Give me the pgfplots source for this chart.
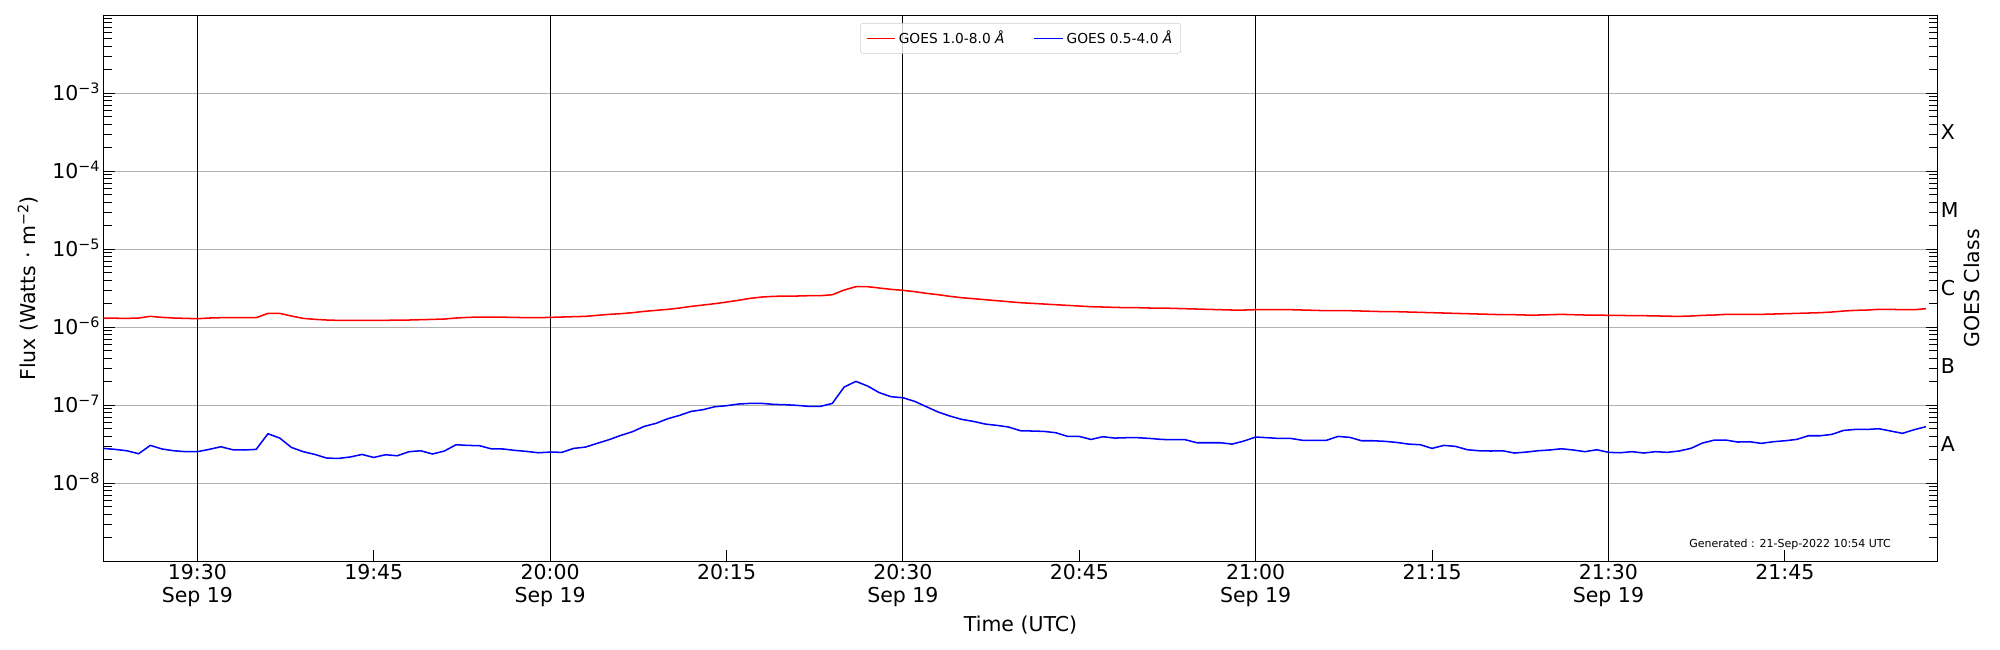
\documentclass[border=0pt]{standalone}
\usepackage{pgfplots}
\usepackage{pgfplotstable}
\pgfplotsset{compat=1.18}
\usepackage{fontspec}
\setmainfont{DejaVu Sans}

\pgfplotstableread{
t long short
22 1.317e-6 2.81e-8
23 1.310e-6 2.73e-8
24 1.304e-6 2.62e-8
25 1.317e-6 2.40e-8
26 1.384e-6 3.07e-8
27 1.343e-6 2.76e-8
28 1.317e-6 2.62e-8
29 1.304e-6 2.55e-8
30 1.291e-6 2.55e-8
31 1.317e-6 2.73e-8
32 1.330e-6 2.95e-8
33 1.330e-6 2.70e-8
34 1.330e-6 2.68e-8
35 1.330e-6 2.73e-8
36 1.511e-6 4.33e-8
37 1.511e-6 3.81e-8
38 1.397e-6 2.89e-8
39 1.304e-6 2.55e-8
40 1.266e-6 2.35e-8
41 1.242e-6 2.11e-8
42 1.229e-6 2.09e-8
43 1.229e-6 2.18e-8
44 1.229e-6 2.35e-8
45 1.229e-6 2.15e-8
46 1.229e-6 2.33e-8
47 1.242e-6 2.26e-8
48 1.242e-6 2.55e-8
49 1.254e-6 2.62e-8
50 1.266e-6 2.38e-8
51 1.279e-6 2.60e-8
52 1.317e-6 3.13e-8
53 1.343e-6 3.07e-8
54 1.357e-6 3.04e-8
55 1.357e-6 2.77e-8
56 1.350e-6 2.76e-8
57 1.343e-6 2.65e-8
58 1.330e-6 2.57e-8
59 1.330e-6 2.47e-8
60 1.343e-6 2.52e-8
61 1.357e-6 2.50e-8
62 1.370e-6 2.81e-8
63 1.384e-6 2.92e-8
64 1.425e-6 3.26e-8
65 1.468e-6 3.63e-8
66 1.497e-6 4.12e-8
67 1.542e-6 4.60e-8
68 1.604e-6 5.38e-8
69 1.652e-6 5.88e-8
70 1.701e-6 6.75e-8
71 1.770e-6 7.44e-8
72 1.858e-6 8.38e-8
73 1.933e-6 8.80e-8
74 2.011e-6 9.61e-8
75 2.113e-6 9.90e-8
76 2.219e-6 1.040e-7
77 2.354e-6 1.061e-7
78 2.448e-6 1.061e-7
79 2.497e-6 1.030e-7
80 2.522e-6 1.020e-7
81 2.522e-6 1.000e-7
82 2.547e-6 9.71e-8
83 2.547e-6 9.71e-8
84 2.623e-6 1.061e-7
85 3.011e-6 1.718e-7
86 3.322e-6 2.031e-7
87 3.322e-6 1.770e-7
88 3.193e-6 1.453e-7
89 3.070e-6 1.291e-7
90 2.982e-6 1.254e-7
91 2.867e-6 1.125e-7
92 2.729e-6 9.61e-8
93 2.623e-6 8.21e-8
94 2.497e-6 7.30e-8
95 2.401e-6 6.61e-8
96 2.331e-6 6.23e-8
97 2.263e-6 5.76e-8
98 2.197e-6 5.54e-8
99 2.133e-6 5.27e-8
100 2.071e-6 4.73e-8
101 2.031e-6 4.69e-8
102 1.991e-6 4.64e-8
103 1.952e-6 4.46e-8
104 1.914e-6 4.00e-8
105 1.877e-6 4.00e-8
106 1.841e-6 3.66e-8
107 1.823e-6 3.97e-8
108 1.805e-6 3.81e-8
109 1.787e-6 3.85e-8
110 1.787e-6 3.85e-8
111 1.770e-6 3.77e-8
112 1.770e-6 3.66e-8
113 1.752e-6 3.63e-8
114 1.735e-6 3.63e-8
115 1.718e-6 3.32e-8
116 1.701e-6 3.32e-8
117 1.685e-6 3.32e-8
118 1.668e-6 3.19e-8
119 1.668e-6 3.49e-8
120 1.685e-6 3.93e-8
121 1.685e-6 3.85e-8
122 1.685e-6 3.77e-8
123 1.685e-6 3.77e-8
124 1.668e-6 3.56e-8
125 1.652e-6 3.56e-8
126 1.636e-6 3.56e-8
127 1.636e-6 4.00e-8
128 1.636e-6 3.89e-8
129 1.620e-6 3.52e-8
130 1.604e-6 3.52e-8
131 1.588e-6 3.46e-8
132 1.588e-6 3.35e-8
133 1.573e-6 3.19e-8
134 1.557e-6 3.13e-8
135 1.542e-6 2.81e-8
136 1.527e-6 3.07e-8
137 1.511e-6 2.98e-8
138 1.497e-6 2.70e-8
139 1.482e-6 2.62e-8
140 1.468e-6 2.60e-8
141 1.453e-6 2.62e-8
142 1.453e-6 2.45e-8
143 1.439e-6 2.52e-8
144 1.439e-6 2.62e-8
145 1.453e-6 2.68e-8
146 1.468e-6 2.78e-8
147 1.453e-6 2.68e-8
148 1.439e-6 2.55e-8
149 1.439e-6 2.70e-8
150 1.425e-6 2.50e-8
151 1.425e-6 2.47e-8
152 1.411e-6 2.55e-8
153 1.411e-6 2.45e-8
154 1.404e-6 2.55e-8
155 1.390e-6 2.50e-8
156 1.384e-6 2.60e-8
157 1.397e-6 2.81e-8
158 1.425e-6 3.29e-8
159 1.439e-6 3.59e-8
160 1.468e-6 3.59e-8
161 1.468e-6 3.39e-8
162 1.468e-6 3.42e-8
163 1.468e-6 3.26e-8
164 1.482e-6 3.42e-8
165 1.497e-6 3.52e-8
166 1.511e-6 3.66e-8
167 1.527e-6 4.08e-8
168 1.542e-6 4.08e-8
169 1.573e-6 4.25e-8
170 1.620e-6 4.78e-8
171 1.652e-6 4.92e-8
172 1.668e-6 4.92e-8
173 1.701e-6 5.02e-8
174 1.701e-6 4.69e-8
175 1.685e-6 4.38e-8
176 1.685e-6 4.88e-8
177 1.735e-6 5.33e-8
}\goesdata

\newcommand{\tickfont}{\fontsize{14.8}{16.8}\selectfont}

\begin{document}
\begin{tikzpicture}
\begin{axis}[
  name=main,
  at={(0,0)}, anchor=south west,
  scale only axis,
  width=1325.72pt, height=394.67pt,
  xmin=22, xmax=178,
  ymode=log, ymin=1e-9, ymax=1e-2,
  axis line style={black, line width=0.9pt},
  xtick={30,45,60,75,90,105,120,135,150,165},
  xticklabels={{19:30\\Sep 19},{19:45},{20:00\\Sep 19},{20:15},{20:30\\Sep 19},{20:45},{21:00\\Sep 19},{21:15},{21:30\\Sep 19},{21:45}},
  xticklabel style={align=center, font=\tickfont, inner sep=2pt},
  xtick pos=bottom,
  ytick={1e-8,1e-7,1e-6,1e-5,1e-4,1e-3},
  yticklabels={10\textsuperscript{−8},10\textsuperscript{−7},10\textsuperscript{−6},10\textsuperscript{−5},10\textsuperscript{−4},10\textsuperscript{−3}},
  yticklabel style={font=\tickfont, anchor=base east, yshift=-5.4pt, inner sep=2pt},
  minor ytick={2e-9,3e-9,4e-9,5e-9,6e-9,7e-9,8e-9,9e-9,
    2e-8,3e-8,4e-8,5e-8,6e-8,7e-8,8e-8,9e-8,
    2e-7,3e-7,4e-7,5e-7,6e-7,7e-7,8e-7,9e-7,
    2e-6,3e-6,4e-6,5e-6,6e-6,7e-6,8e-6,9e-6,
    2e-5,3e-5,4e-5,5e-5,6e-5,7e-5,8e-5,9e-5,
    2e-4,3e-4,4e-4,5e-4,6e-4,7e-4,8e-4,9e-4,
    2e-3,3e-3,4e-3,5e-3,6e-3,7e-3,8e-3,9e-3},
  ytick pos=both,
  tick align=inside,
  major tick length=8.4pt,
  minor tick length=6pt,
  tick style={black, line width=0.7pt},
  ymajorgrids,
  major grid style={color=black!31, line width=0.7pt},
  xlabel={Time (UTC)},
  xlabel style={font=\tickfont, at={(axis description cs:0.5,-0.1166)}, anchor=center},
  ylabel={Flux (Watts · m\textsuperscript{−2})},
  ylabel style={font=\tickfont, at={(axis description cs:-0.04103,0.5)}, anchor=center},
  legend columns=2,
  legend style={at={(0.5,1)}, anchor=north, yshift=-5.6pt,
    draw=black!20, rounded corners=2pt, fill=white, fill opacity=0.8, text opacity=1,
    font=\fontsize{9.94}{12}\selectfont, inner xsep=4pt, inner ysep=3.5pt,
    /tikz/every even column/.append style={column sep=19pt}},
  legend image code/.code={\draw[#1] (0pt,0pt) -- (20.7pt,0pt);},
  legend cell align=left,
]
\addplot[black, line width=0.8pt, forget plot] coordinates {(30,1e-9) (30,1e-2)};
\addplot[black, line width=0.8pt, forget plot] coordinates {(60,1e-9) (60,1e-2)};
\addplot[black, line width=0.8pt, forget plot] coordinates {(90,1e-9) (90,1e-2)};
\addplot[black, line width=0.8pt, forget plot] coordinates {(120,1e-9) (120,1e-2)};
\addplot[black, line width=0.8pt, forget plot] coordinates {(150,1e-9) (150,1e-2)};
\addplot[color={rgb,1:red,1;green,0;blue,0}, line width=1.1pt] table[x=t, y=long] {\goesdata};
\addlegendentry{GOES 1.0-8.0 \textit{Å}}
\addplot[color={rgb,1:red,0;green,0;blue,1}, line width=1.1pt] table[x=t, y=short] {\goesdata};
\addlegendentry{GOES 0.5-4.0 \textit{Å}}
\node[font=\fontsize{7.95}{9.5}\selectfont] at (rel axis cs:0.9195,0.0319) {Generated : 21-Sep-2022 10:54 UTC};
\end{axis}
\begin{axis}[
  at={(main.south west)}, anchor=south west,
  scale only axis,
  width=1325.72pt, height=394.67pt,
  xmin=22, xmax=178,
  ymode=log, ymin=1e-9, ymax=1e-2,
  axis line style={draw=none},
  xtick=\empty,
  ytick={3.1623e-8,3.1623e-7,3.1623e-6,3.1623e-5,3.1623e-4},
  yticklabels={A,B,C,M,X},
  minor ytick={},
  yticklabel pos=right,
  ytick style={draw=none},
  minor tick style={draw=none},
  yticklabel style={font=\tickfont, inner sep=2pt},
  ylabel={GOES Class},
  ylabel style={font=\tickfont, at={(axis description cs:1.01855,0.5)}, anchor=center},
]
\end{axis}
\pgfresetboundingbox
\path ([xshift=-74.66pt,yshift=-64.03pt]main.south west) rectangle ([xshift=45.02pt,yshift=11.06pt]main.north east);
\end{tikzpicture}
\end{document}
